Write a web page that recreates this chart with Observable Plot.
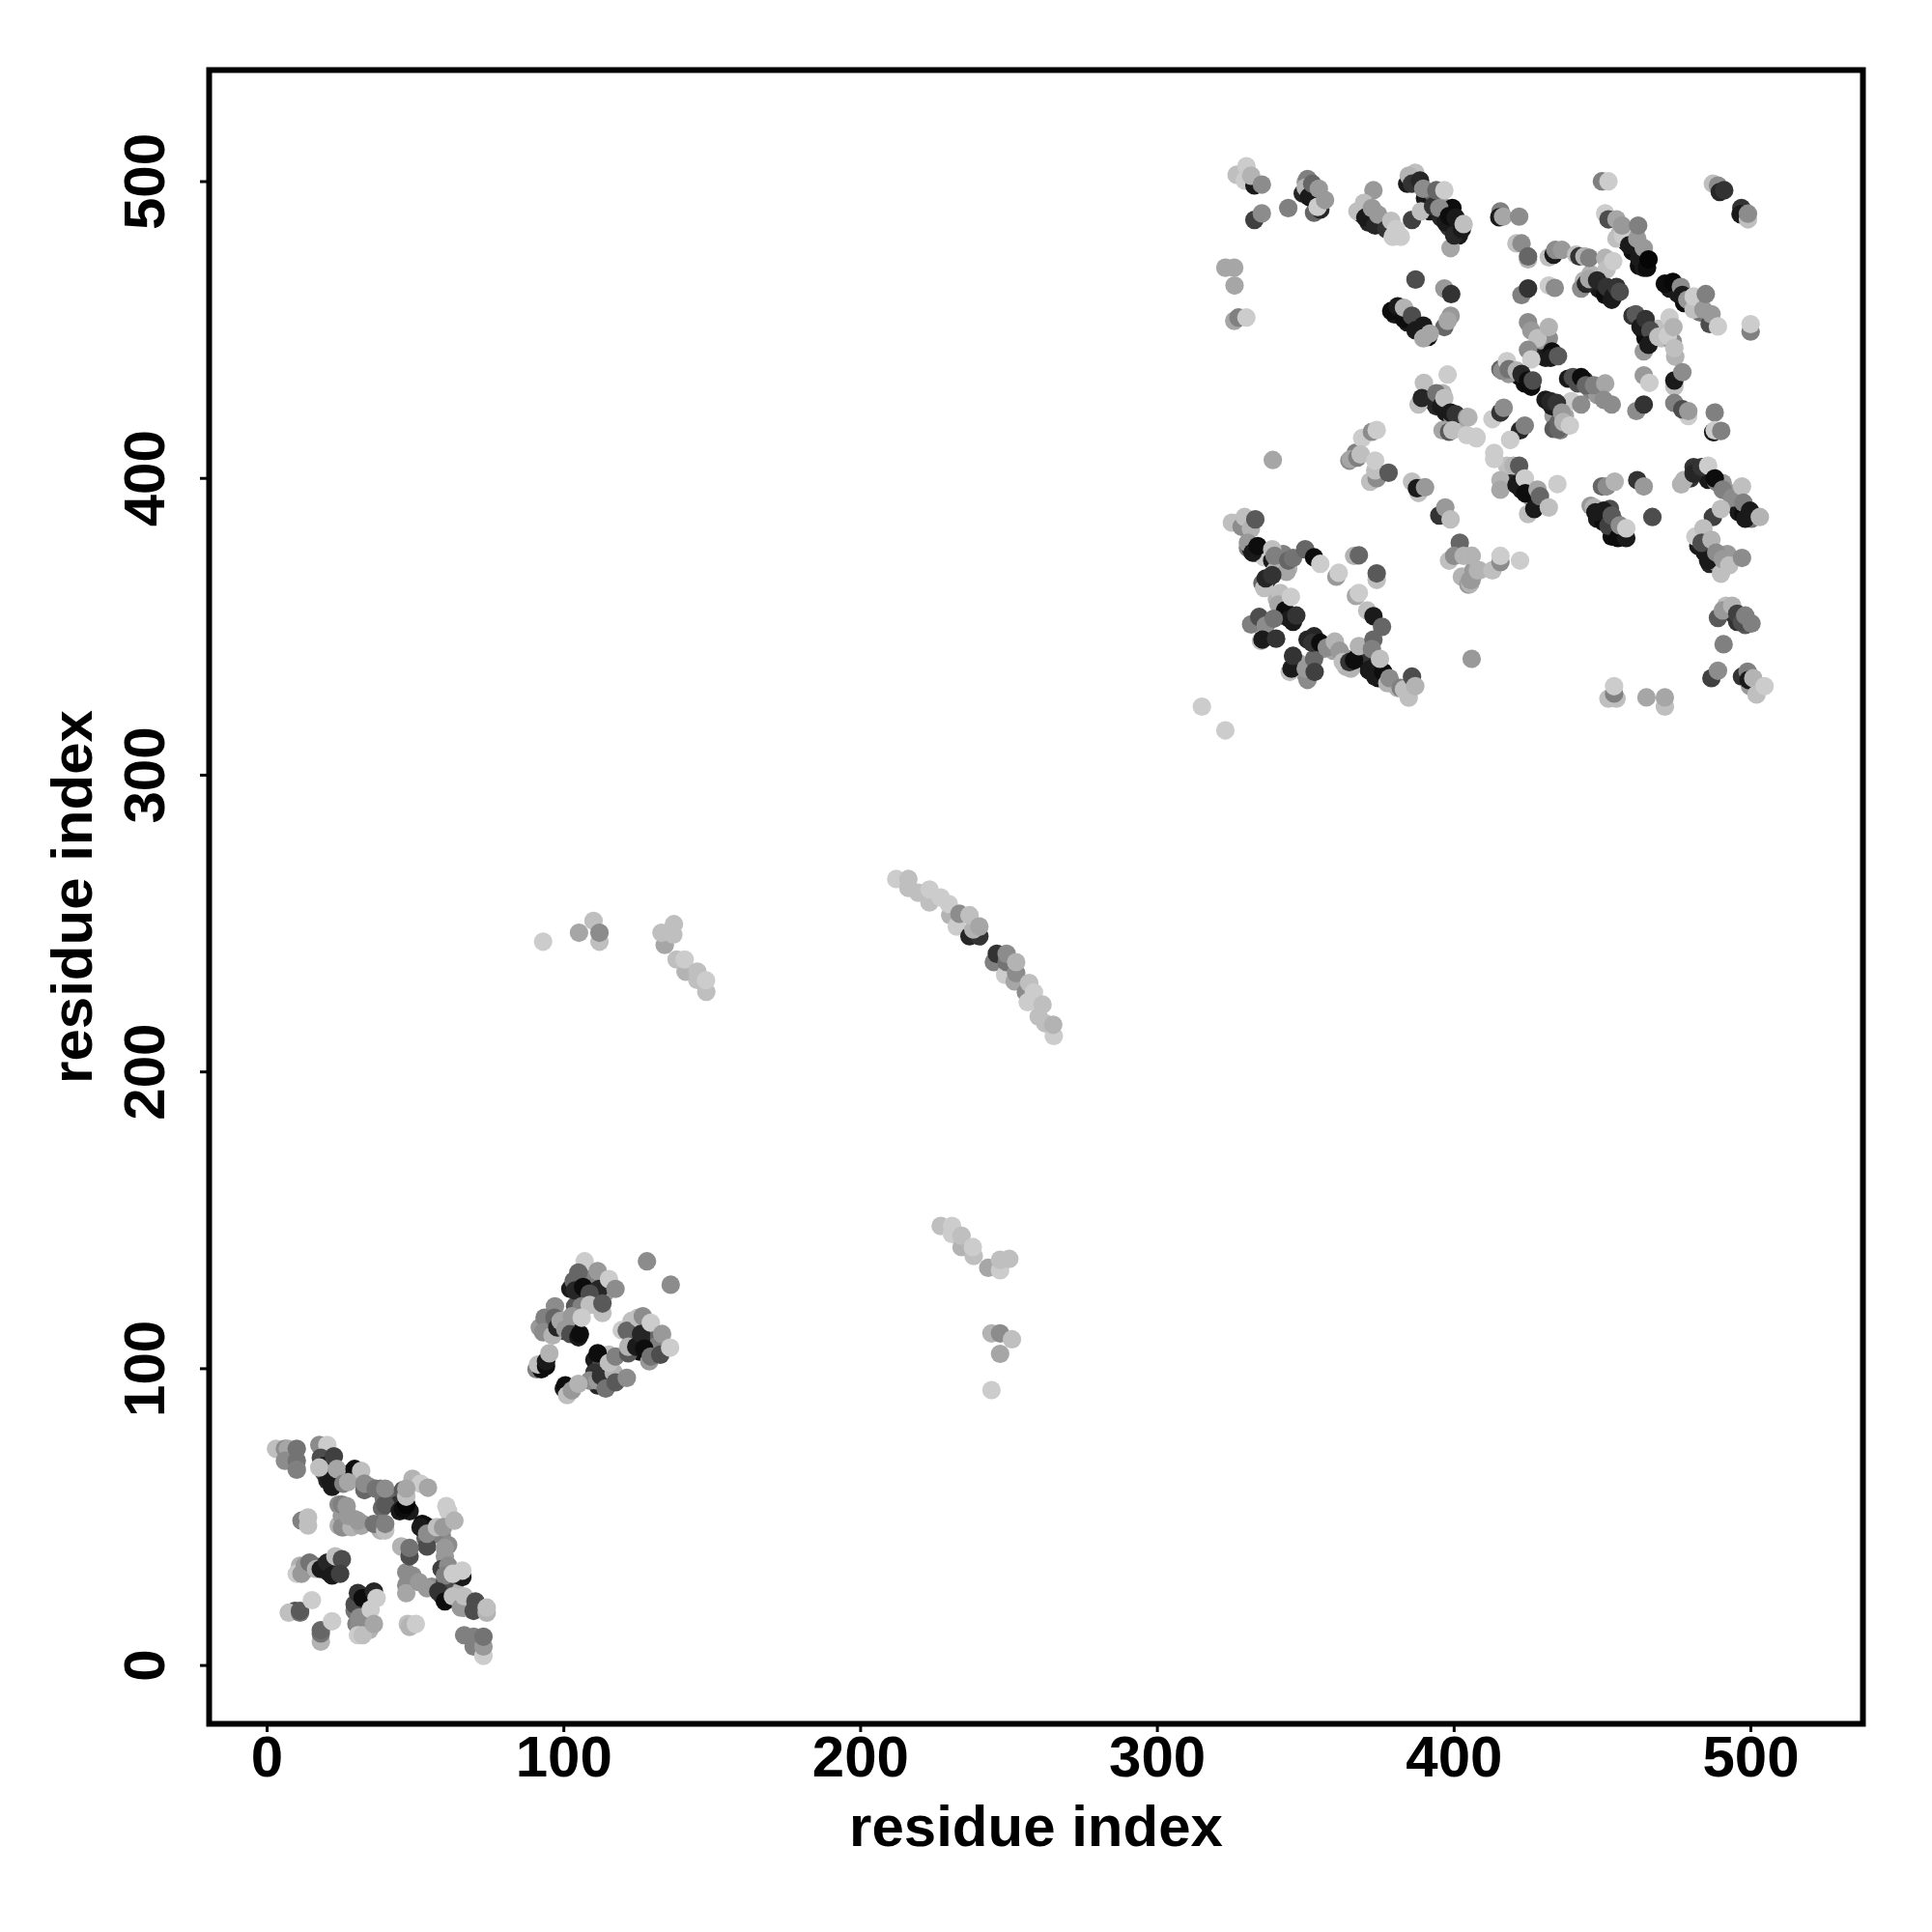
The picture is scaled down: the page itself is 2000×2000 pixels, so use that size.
<!DOCTYPE html>
<html>
<head>
<meta charset="utf-8">
<script src="https://cdn.jsdelivr.net/npm/d3@7"></script>
<script src="https://cdn.jsdelivr.net/npm/@observablehq/plot@0.6"></script>
<style>html,body{margin:0;padding:0;background:#fff}svg{display:block}</style>
</head>
<body>
<div id="chart"></div>
<script>
// each contact: [residue index, residue index, grey shade]
const underBlockA = [
[19.2,65,.3],[20.3,62.4,.15],[23.5,62.4,.45],[25.7,63.4,.55],[28.4,65,.1],[30.6,63.4,.6],[34.4,60.2,.5],[38.2,59.6,.5],[39.3,56.4,.45],[38.7,53.1,.4],[43,56.9,.4],[44.1,54.2,.2],[48,52,.1],
[24.1,47.2,.7],[26.8,48.8,.6],[29.5,49.3,.6],[32.2,47.7,.6],[38.2,47.7,.5],[24.1,54.2,.55],[25.2,50.4,.6],[38.2,45.5,.7],
[52.3,47.7,.05],[53.4,42.8,.4],[55.5,43.9,.45],[58.8,43.9,.5],[61,40.6,.55],[46.9,31.4,.55],[49,30.3,.55],[55.5,26.5,.55],[58.8,23.8,.1],[60.4,22.7,.15],[64.2,21.6,.6],[66.4,19.5,.4],[68.6,18.9,.7],[63.1,26.5,.7],[59.9,28.1,.3],[59.9,33.6,.5],[64.2,30.3,.3],
[13.2,32.5,.5],[16,33.6,.65],[19.2,33.6,.1],[20.8,31.4,.1],[23,32.5,.2],[11.1,33.6,.7],
[31.1,21.6,.1],[29.5,18.4,.45],[32.2,18.4,.55],[30.1,14,.5],[32.2,11.9,.55],[34.4,15.1,.6],[34.4,11.9,.7],[32.8,20.6,.2],[34.9,23.8,.1],[9.4,18.4,.3]
];
const underBlockB = [
[102.2,126.9,.1],[104.9,124.2,.3],[103.8,121,.35],[108.7,130.2,.5],[104.9,128,.2],[109.8,122.6,.7],[114.1,125.8,.6],[94.6,113.4,.3],[91.9,113.9,.6],[95.7,115.5,.65],[99.5,112.8,.3],[103.8,112.3,.1],[101.1,116.6,.75],[90.8,99.8,.5],[92.4,99.8,.05],
[110.3,103,.1],[112.5,100.9,.3],[115.2,104.7,.75],[110.3,98.7,.2],[111.4,94.4,.15],[114.7,95.4,.75],[116.3,96.5,.8],[115.2,99.8,.8],[108.7,96,.55],
[124.4,112.8,.2],[122.8,109.6,.5],[125.5,105.8,.05],[129.3,111.7,.4],[130.9,107.4,.5],[128.8,102.5,.6],[126,109.6,.15],[122.8,116.1,.75]
];
const underUpperLeft = [
[350,499.8,.6],[349,496,.15],[352.8,493.8,.15],
[369,489,.1],[371.2,486.2,.15],[376.1,485.2,.1],[374.4,486.2,.6],
[384.2,499.3,.1],[390.2,494.4,.1],[392.3,492.2,.1],[391.8,490,.1],[395.6,487.9,.15],[398.3,484.6,.2],[401.6,481.9,.1],[392.9,496,.4],[395,493.8,.6],[399.4,491.1,.05],[400.5,483.5,.7],
[379.9,455.3,.1],[382,455.9,.05],[384.2,452.6,.1],[387,452,.35],[388.5,449.3,.05],[391.3,447.7,.05],
[391.8,426.5,.15],[394,424.3,.15],[397.2,422.2,.1],[399.4,420.6,.55],[402.6,420,.7],[396.1,428.7,.7]
];
const underUpperRight = [
[458,479.7,.1],[460.1,476.5,.05],[462.3,471.6,.05],[463.9,471,.1],[459,481.9,.5],[455.8,482.4,.7],
[472.6,464,.1],[475.3,462.3,.1],[477.5,459.1,.05],[479.6,460.7,.65],[482.9,455.9,.45],
[460.1,454.8,.2],[463.4,450.4,.05],[464.5,447.2,.05],[467.2,448.2,.7],[469.9,447.2,.75],[473.7,446,.55],[468.8,450.4,.75],
[446.6,466.2,.2],[448.7,464,.1],[450.9,461.8,.05],[453.1,460.2,.1],[446,468.9,.7],[443.8,466.7,.7],
[429.7,443.9,.15],[430.8,440.6,.1],[429.2,446.6,.6],
[415.6,436.8,.4],[419.4,436.3,.3],[421.6,434.7,.05],[423.8,432,.05],[426,430.9,.05],[418.4,435.2,.6],
[438.4,433.6,.1],[441.7,432,.3],[446,429.8,.5],[448.2,428.2,.6],[443.9,433,.2],
[430.8,426.5,.1],[433.5,421.1,.6],[433.5,416.7,.35],[437.3,421.1,.65],[433,424.3,.1],[435.7,416.2,.5],[435.2,418.9,.4]
];
const underLowerLeft = [
[330.5,376.6,.5],[331.6,376.1,.15],[333.2,375,.05],[336,373.4,.8],[338.7,372.3,.1],[340.8,371.2,.4],[344.1,369.6,.7],[342.4,374.5,.5],
[337,365.8,.2],[335.4,364.7,.4],[339.7,369,.7],[340.3,359.3,.7],[342.4,357.1,.3],[344,353.3,.05],[345.7,351.7,.1],[341.9,353.8,.2],
[350.6,345.7,.15],[354.4,344.1,.15],[355.5,342.4,.6],[359.3,341.9,.65],[363,339.7,.6],[363.6,336.5,.7],[367.4,339.7,.15],[369,341.9,.6],[371.2,338.6,.2],
[374.4,332.7,.05],[371.2,335.4,.1],[378.8,331,.6],[381,329.4,.7],[350,333.8,.6],[347.9,337.6,.65],[366.9,408.7,.5],[364.7,406,.55],[402.6,366.9,.7],[404.8,364.2,.6]
];
const underLowerRight = [
[418.9,401.6,.1],[420,399.4,.15],[422.7,396.2,.1],[426,393.5,.6],[423.8,398.4,.75],[417.8,404.3,.75],
[446,390.8,.6],[448.7,388.6,.05],[451.4,386.4,.4],[448.2,386.4,.1],[450.4,385.3,.05],[453.1,380.4,.05],[456.9,381,.4],[454.1,385.3,.4],[452.5,389.7,.3],
[484,402.2,.1],[485.6,399.5,.1],[488.3,398.9,.5],[490.5,398.4,.6],[492.7,395.1,.6],[494.8,390.8,.55],[495.9,388.6,.1],[497.5,388,.05],[500.2,386.4,.45],[480.7,403.8,.2],[479.6,400,.2],
[482.3,377.2,.1],[484.5,375,.1],[486.1,371.2,.15],[488.3,371.8,.6],[492.1,374.5,.6],[489.9,370.7,.6],
[493.2,354.9,.2],[491.6,357.1,.75],[495.4,351.7,.2],[498.1,350.6,.35],[497,333.2,.2],[499.7,330,.6]
];
const blockA = [
[3,73,.75],[6,73,.55],[7,73,.65],[6,69,.55],[10,73,.45],[10,69,.45],[10,66,.5],
[17.6,74.3,.55],[20.3,74.3,.8],[18.1,70,.3],[19.2,67.2,.1],[20.8,62.9,.1],[21.9,60.2,.1],[22.5,70.5,.25],[17.6,66.7,.75],[23.5,66.2,.65],[25.7,61.3,.5],[29.5,66.2,.05],[31.7,65.6,.75],[27.3,61.8,.65],[32.8,59.1,.4],[32.8,61.3,.55],
[39.8,54.2,.35],[36.6,59.6,.45],[39.8,59.6,.55],[44.7,52,.1],[45.8,52.6,.05],[46.9,54.2,.02],[45.8,59.1,.35],[49,62.9,.7],[51.7,61.3,.8],[54.2,59.9,.65],[46.9,56.9,.75],[46.9,59.6,.65],
[25.2,54.2,.5],[26.8,53.7,.6],[25.7,46.6,.6],[25.2,46.6,.55],[28.4,46.6,.7],[27.3,50.4,.6],[31.7,47.1,.65],[30.6,48.8,.6],[36,47.7,.45],[39.8,45.5,.75],[39.8,47.7,.5],
[11.6,48.8,.5],[13.8,47.2,.75],[13.8,49.9,.75],
[53.4,47.1,.05],[51.7,46.6,.1],[53.9,40.1,.3],[53.9,44.4,.55],[60.4,53.7,.8],[61,52,.8],[57.2,46.6,.75],[59.3,46.6,.6],[63.1,48.8,.7],
[45.2,40.1,.7],[48,36.8,.3],[48,39.6,.45],[59.9,39.6,.6],[59.9,36.8,.6],[58.8,32.5,.25],[61,33.6,.55],[59.9,30.3,.5],[65.8,29.8,.1],[62.6,30.9,.8],[65.8,32,.8],
[46.9,27,.55],[46.9,24.4,.65],[48,30.3,.55],[51.2,28.1,.6],[53.9,26,.6],[57.7,24.9,.2],[59.9,21.6,.05],[62.6,23.3,.75],[65.3,19.5,.6],[66.4,23.3,.75],[69.6,18.4,.3],[70.2,21.6,.3],[74,17.8,.7],[74,19.5,.75],
[10,30.9,.8],[11.6,30.9,.6],[12.7,33.6,.6],[14.3,34.7,.45],[16.5,32.5,.7],[18.1,32.5,.1],[20.3,34.7,.15],[21.9,30.3,.1],[23,36.8,.75],[25.2,35.8,.3],[24.6,30.9,.25],
[29.5,20.6,.3],[30.6,24.4,.2],[32.2,22.7,.05],[36,24.9,.15],[31.1,16.2,.55],[31.1,13.5,.55],[30.6,10.2,.8],[32.2,10.2,.75],[34.9,18.9,.8],[36.9,22.7,.8],[36,14,.65],
[7.3,17.8,.75],[11.1,17.8,.45],[11.1,18.4,.35],[15.1,22,.8],
[18.1,8,.7],[18.1,10.8,.45],[18.1,11.9,.4],[21.9,14.9,.8],
[47.4,14,.75],[48,13,.7],[50.1,14,.8],
[66.4,10.2,.5],[69.6,9.7,.5],[69.6,6.4,.5],[72.9,3.2,.8],[72.9,6.4,.6],[72.9,9.7,.45]
];
const blockB = [
[128,136.2,.55],[136,128.3,.55],
[107,136.2,.8],[104.9,132.4,.4],[103.3,129.6,.4],[103.8,126.4,.15],[106.5,127.5,.05],[111.4,132.9,.6],[111.9,126.9,.15],[108.7,125.3,.3],[106,121,.5],[108.7,121.5,.75],[113,118.8,.75],[113,122,.35],[115.2,130.2,.8],[117.4,126.9,.55],
[97,121,.55],[93.5,117.2,.5],[93,112.3,.55],[96.2,111.2,.7],[96.8,117.2,.4],[97.8,113.9,.15],[98.9,116.1,.65],[100.5,113.3,.6],[102.2,111.7,.3],[102.7,117.7,.6],[104.9,110.6,.1],[105.4,111.7,.05],[106,117.2,.8],
[91.3,101.4,.75],[94,100.9,.05],[94,102.5,.1],[95.1,105.2,.7],
[100,93.3,.1],[100.5,94.4,.05],[101.1,91.1,.75],[102.7,92.7,.6],[104.9,94.9,.7],
[111.4,105.2,.05],[111.4,96,.6],[112.5,97.6,.2],[114.1,93.3,.45],[116.8,98.7,.7],[117.4,95.4,.35],[115.2,102,.75],[117.4,104.1,.5],[121.2,96.9,.55],
[119.5,113,.8],[121.2,112.8,.4],[121.7,105.2,.35],[121.7,107.4,.7],[125,117.2,.75],[126.6,117.7,.55],[124.4,107.4,.1],[126,111.7,.15],[127.1,106.8,.05],[129.3,115.5,.8],[129.3,104.1,.45],[132.5,104.7,.3],[133.1,111.7,.6],[135.8,107.1,.8]
];
const bridgeLeft = [
[93,243.9,.8],[105.1,246.9,.65],[110,250.9,.75],[112,243.9,.75],[112,246.9,.55],
[134,242.8,.65],[132.9,246.9,.75],[137.1,249.8,.75],[136.9,246.3,.75],[141,233.8,.7],[138,237.9,.75],[140.7,237.9,.8],[145,233.8,.75],[148,227,.75],[145,231,.75],[147.9,230.9,.8]
];
const bridgeLower = [
[227,148.1,.75],[230.8,145.4,.8],[230.8,148.1,.8],[234,141,.7],[234,144.8,.75],[238.1,138,.75],[237.8,141,.8],[243,134,.65],[247,133.2,.8],[250.1,137,.75],[247,136.7,.75],
[244.1,111.9,.7],[247,111.9,.55],[251,109.9,.75],[247,105,.65],[244.1,92.8,.8]
];
const arc = [
[212,265,.8],[216.1,262,.75],[216.1,265,.75],[219.4,260.4,.75],[223.2,257.1,.75],[223.2,261.5,.8],[227,258.8,.8],[230.2,252.8,.7],[229.7,256.6,.8],[232.4,249,.8],[233.3,253.3,.55],[236.7,245.7,.15],[240,245.7,.2],[238,248,.7],[236.7,252.8,.75],[240,249,.65],
[244.9,237,.5],[245.9,239.8,.2],[248.7,232.7,.8],[249.2,237,.45],[249.2,239.8,.55],[251.9,230.5,.65],[252.4,233.3,.55],[252.4,237,.7],[255.7,226.8,.55],[256.3,223.5,.8],[256.8,230,.75],[258.4,226.8,.8],[260,218.6,.75],[261.3,222.7,.75],[262.2,216.4,.75],[265.1,212.1,.8],[264.9,215.9,.7]
];
const upperLeft = [
[326.7,502.3,.75],[330,505.2,.8],[329.4,500.4,.8],[332.7,498.7,.1],[331.6,502,.7],[335.2,499,.55],
[332.7,487.1,.25],[335.2,489.3,.55],[344.1,491.1,.5],
[350.6,500.9,.5],[350,498,.7],[351.1,494.9,.1],[352.2,499.3,.4],[352.8,489.5,.4],[354.9,490.6,.15],[354.4,497.6,.6],[354,491.5,.8],[356.5,493.8,.6],
[372.8,497.1,.6],[367.4,490,.75],[369.6,492.8,.75],[370.1,487.9,.1],[372.3,491.1,.6],[373.4,485.2,.15],[374.4,488.9,.6],[377.2,484,.2],[378.8,486.8,.75],[379.3,481.4,.8],[380.4,484,.8],[382,481.4,.8],
[385.8,487.1,.25],[388.8,490,.75],
[386.9,503,.75],[384.7,502,.7],[385.8,499.3,.2],[388.5,500.4,.15],[389.6,497.6,.55],[392.9,491.7,.2],[394,497.1,.4],[395,491.1,.55],[396.7,497.1,.8],[398.8,477.6,.65],[397.2,486.2,.1],[398.3,488.4,.05],[400,481.9,.15],[400.5,487.9,.1],[402.6,484,.1],[403.2,485.7,.75],
[387,467,.3],[396.7,464,.6],[399,462.1,.2],
[396.7,451,.4],[398.8,454.8,.6],[397.8,453.1,.65],
[378.8,456.4,.05],[381,458,.1],[383.1,453.7,.05],[383.1,457.5,.7],[385.8,454.8,.3],[387,449.9,.1],[389.6,451.5,.1],[389.6,447.2,.65],[391.8,448.8,.65],
[322.9,471,.65],[325.9,471,.65],[326,465,.65],[325.9,453.1,.65],[327.3,454.2,.5],[330,454.2,.8],
[397.8,435,.8],[389.8,432.2,.75],[388,424.9,.75],[389.1,427.1,.15],[394,428.7,.45],[395.6,424.3,.1],[396.7,427.1,.75],[398.8,422.2,.1],[400.5,421.6,.2],[404.3,420.6,.6],
[396.1,416.2,.65],[398.3,415.7,.35],[399.4,416.2,.75],[404.3,414.6,.8],[407.5,414,.8]
];
const upperRight = [
[449.8,500.1,.5],[452,500.1,.8],
[487.2,499.3,.75],[488.9,498.7,.55],[489.5,496.5,.15],[491,497.1,.2],
[496.8,491.1,.2],[496.5,489,.1],[499,487.3,.75],[499,489.2,.55],
[415.6,490,.5],[415.2,488,.1],[416.5,488.2,.65],[421.9,488.2,.55],
[421,479.2,.75],[422.7,479.2,.55],[424.9,473.8,.7],[424.9,474.8,.4],
[431.9,474.5,.75],[433.5,475.4,.1],[434.1,477,.55],[436.3,477,.6],
[441.1,475.4,.75],[442.2,474.8,.2],[443.9,474.8,.7],[445.5,474.3,.5],[450.9,474.3,.7],[451.4,470.5,.75],[453.6,473.2,.8],
[442.8,464,.55],[444.4,465.6,.15],[445.5,467.2,.65],[448.2,466.7,.15],[451.4,464.5,.2],[453.6,461.3,.1],[454.7,464.5,.2],[455.8,462.9,.3],
[422.7,461.8,.5],[424.9,464,.2],[431.9,465,.8],[433.9,464.2,.55],
[450.9,489.3,.8],[452,487.3,.3],[454.7,480.8,.75],[454.7,487.3,.65],[456.9,481.9,.8],[456.6,485.2,.6],[459,478.6,.1],[461.7,480.8,.6],[462,485.2,.5],[462.3,474.3,.1],[463.9,477.6,.6],[465,471,.05],[465.5,473.8,.02],
[471,465.6,.05],[473.7,466.2,.03],[476.4,464.5,.55],[476.9,461.8,.1],[478.6,460.2,.6],[480.7,456.9,.75],[480.7,461.3,.8],[484,456.9,.6],[486.1,452,.3],[486.7,455.3,.6],[484.8,462.1,.5],[488.9,451.2,.8],
[499.9,449.5,.5],[499.9,452,.8],
[461.2,455.3,.35],[462.8,451,.1],[464.5,453.7,.2],[466.1,449.9,.3],[463.9,442.8,.6],[465.5,445,.1],[468.8,447.7,.75],[472.6,454.2,.8],[472,448,.8],[473.9,451,.7],[474.5,441,.7],[474.2,443.9,.75],
[463.9,434.7,.6],[465.8,432.2,.8],[474.2,430.9,.75],[474.2,433,.1],[476.9,435.8,.55],
[461.4,422.7,.55],[463.9,424.9,.2],
[474.2,425.4,.5],[478.9,421,.8],[476.9,423.3,.3],[478.9,422.7,.6],
[487.8,422.2,.5],[487.3,415.6,.1],[487.8,416.2,.8],[490,416,.5],
[424.9,452.6,.55],[426,449.8,.6],[431.9,447.2,.55],[428.1,447.2,.75],[431.9,451,.7],[424.9,443.3,.55],[433,442.8,.05],[432.5,440.6,.1],[435,441.2,.35],[426,440.1,.8],
[416.2,436.3,.55],[417.8,439.5,.8],[418.4,436.8,.45],[421.1,436.3,.7],[422.7,435.2,.15],[424.9,433,.05],[426.5,433,.3],
[440,434.1,.3],[442.8,434.1,.05],[444.4,431.4,.4],[447.1,431.4,.5],[450.9,432,.65],[439.5,426,.8],[442.8,424.9,.55],[450.4,426.5,.55],[453.1,424.9,.55],
[432.5,426,.15],[434.6,425.4,.2],[436.3,422.2,.6],[435.2,416.7,.4],[436.8,419,.7],[439,417.8,.8],
[412.9,420,.8],[415.6,422.2,.2],[416.7,423.8,.55],
[418.9,413,.8],[422.2,416.2,.15],[423.8,417.8,.5],
[404.8,420.6,.7],[407.5,413.5,.8],[413.5,408.6,.8]
];
const lowerLeft = [
[338.9,406.2,.65],
[369,413.6,.8],[372.3,415.7,.55],[373.9,416.3,.8],
[365.2,406.5,.65],[367.4,407,.5],[368.5,408.1,.75],[371.7,398.9,.75],[373.9,400,.55],[373.4,402.7,.75],[373.4,406,.8],[377.9,401.9,.35],
[385.8,398.9,.75],[388,395.1,.75],[387.5,396.7,.1],[390.2,397,.6],
[395,387.5,.2],[397,390.2,.6],[398.8,386.2,.75],
[398.3,372.3,.75],[401.9,378.3,.4],[400,373.9,.55],[403.2,373.9,.7],[405.9,373.9,.8],[405.4,364.5,.7],[405.4,365.8,.6],[406.5,369,.6],[408.6,369,.75],
[325.1,385.1,.75],[328.4,383.7,.55],[329.4,387,.75],[331.5,383,.7],[333,386.2,.35],
[330.5,378.3,.6],[332.1,375,.1],[333.8,377.2,.05],[338.7,376.1,.75],[339.5,373.9,.5],[343.5,368.5,.65],[344.1,372.3,.4],[345.7,373.2,.45],[349.8,376.1,.4],[352.8,373.4,.05],[354.9,371.2,.8],
[336,363.1,.75],[336.5,366.3,.15],[338.7,367.4,.2],[341.4,361.4,.75],[340.8,357.5,.65],[343,355.5,.05],[344.6,352.7,.1],[346.8,353.8,.2],[345,360.1,.8],
[331.6,350.8,.5],[334.3,353.3,.3],[336.5,350.4,.55],[339.2,352.7,.45],[334.9,345.2,.75],[335.4,345.7,.1],[340,346,.2],
[344.6,334.8,.75],[345.2,335.9,.1],[345.7,340.2,.2],[350.6,332.1,.55],[350,335.9,.6],[352.8,339.2,.4],[353,334.8,.25],
[352.8,346.8,.15],[352.2,344.6,.2],[354.9,344.6,.05],[357.1,343,.55],[359.8,345,.7],[361.4,341.9,.6],[362.5,338.1,.75],[365.2,335.9,.7],[364.7,338.1,.2],[366.3,338.7,.05],[367.9,343.5,.7],
[366.3,373.9,.7],[367.9,374.1,.4],[360.3,366.9,.6],[361.1,368.2,.8],[373.9,365.8,.75],[373.9,368,.35],[366.9,360.4,.65],[367.9,361.4,.8],
[370.7,355.5,.75],[372.8,353.6,.1],[375.7,350,.4],
[372.8,345.7,.4],[372.3,342.5,.5],[372.3,335.9,.1],[373.4,333.2,.1],[376.1,334.8,.05],[375,339.2,.75],[377.5,331,.7],[378.2,332.7,.55],
[382,329.4,.5],[384.7,326.1,.75],[383.1,328.9,.75],[385.8,333.2,.3],[386.9,330,.7],
[405.9,339.2,.6],[315,323.1,.8],[322.9,315.1,.8]
];
const lowerRight = [
[418.9,413,.8],[415.6,399.4,.7],[415.6,396.2,.65],[413.5,406.5,.8],[420,404.3,.7],[421.9,404.3,.35],[421,397.8,.1],[423.8,400,.8],[424.9,388,.75],[427,389.7,.1],[424,395,.05],[428.1,396.2,.65],[428.9,394,.4],[431.9,390.2,.75],[434.8,398.1,.8],
[405.9,373.9,.7],[405.9,365.8,.6],[408,369,.7],[412.9,369,.75],[415.6,371.8,.55],[415.6,373.9,.8],[422.2,372.3,.8],
[449.8,397.3,.4],[451.4,397.3,.55],[454.1,398.9,.7],[461.7,399.4,.2],[463.9,397.3,.6],[466.8,387,.3],
[447.1,390.2,.7],[447.6,388.6,.1],[450.4,389.1,.1],[452,384,.25],[453.1,387.5,.35],[455.2,379.9,.05],[458,379.9,.1],[455.8,384.2,.55],[458,383.2,.8],
[476.5,398,.7],[477.5,399.5,.7],[480.7,401.6,.15],[483.4,403.8,.2],[485.6,404.3,.8],[487.8,400,.05],[490.5,396.2,.5],[493.7,393.5,.55],[497,397.3,.75],[497.5,391.8,.5],[498.1,386.4,.1],[499.7,389.1,.1],[503,387,.7],
[487.2,387,.25],[489.9,389.7,.75],
[481.3,380.4,.8],[484,383.2,.75],[483.4,378.3,.3],[486.7,379.3,.7],[485.6,372.3,.1],[488.3,375,.55],[489.9,367.9,.75],[490.5,372.8,.6],[492.7,370.7,.75],[497,373.2,.55],
[488.9,353,.35],[490.5,355.5,.6],[493.7,357.1,.7],[495.4,354.4,.25],[497,351.5,.3],[498.1,353.8,.5],[500.2,351.1,.5],
[490.8,344.1,.5],
[486.7,332.7,.25],[488.9,335.2,.55],
[498.9,334.9,.5],[499.2,332.1,.1],[500.8,332.7,.7],[501.9,327.2,.75],[504.6,330,.8],
[452,325.8,.75],[454.7,325.8,.75],[453.9,327.5,.5],[453.9,330,.8],
[464.8,326.2,.65],[471,323.1,.75],[471,326.2,.65]
];
const tickValues = [0, 100, 200, 300, 400, 500];
const axisLabel = "residue index";

const contacts = [underBlockA, underBlockB, underUpperLeft, underUpperRight, underLowerLeft, underLowerRight,
  blockA, blockB, bridgeLeft, bridgeLower, arc, upperLeft, upperRight, lowerLeft, lowerRight]
  .flat().map(([i, j, shade]) => ({i, j, shade}));

const font = {fontSize: 60, fontWeight: "bold", fontFamily: "'Liberation Sans', Arial, sans-serif"};

const chart = Plot.plot({
  width: 2000,
  height: 2000,
  marginLeft: 216,
  marginRight: 72,
  marginTop: 72,
  marginBottom: 216,
  style: {background: "#fff", color: "#000"},
  x: {domain: [-19.53, 537.75]},
  y: {domain: [-19.66, 537.6]},
  color: {type: "linear", domain: [0, 1], range: ["#000", "#fff"]},
  marks: [
    Plot.dot(contacts, {x: "i", y: "j", fill: "shade", r: 9.6}),
    Plot.frame({stroke: "#000", strokeWidth: 6}),
    Plot.axisX({ticks: tickValues, tickSize: 9, tickPadding: 3, strokeWidth: 3, tickFormat: d => String(d),
      label: axisLabel, labelAnchor: "center", labelArrow: "none", labelOffset: 126, ...font}),
    Plot.axisY({ticks: tickValues, tickSize: 9, tickPadding: 38, tickRotate: -90, strokeWidth: 3, tickFormat: d => String(d),
      label: axisLabel, labelAnchor: "center", labelArrow: "none", labelOffset: 164, ...font})
  ]
});
document.getElementById("chart").append(chart);
</script>
</body>
</html>
